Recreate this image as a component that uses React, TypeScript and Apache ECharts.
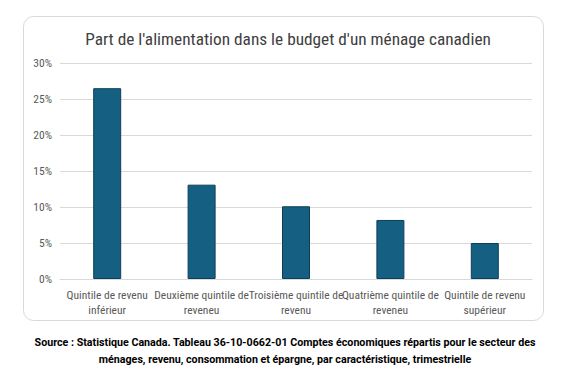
import React, { useEffect, useRef } from "react";
import * as echarts from "echarts";

const categories = [
  "Quintile de revenu\ninférieur",
  "Deuxième quintile de\nreveneu",
  "Troisième quintile de\nrevenu",
  "Quatrième quintile de\nreveneu",
  "Quintile de revenu\nsupérieur",
];
const shares = [0.265, 0.131, 0.101, 0.082, 0.05];
const yTicks = { min: 0, max: 0.3, interval: 0.05 };
const titleText = "Part de l'alimentation dans le budget d'un ménage canadien";
const sourceLines = [
  "Source : Statistique Canada. Tableau 36-10-0662-01 Comptes économiques répartis pour le secteur des",
  "ménages, revenu, consommation et épargne, par caractéristique, trimestrielle",
];

export default function App() {
  const ref = useRef<HTMLDivElement>(null);
  useEffect(() => {
    if (!ref.current) return;
    const chart = echarts.init(ref.current, undefined, { renderer: "svg" });
    const cond = "'Roboto Condensed', Roboto, sans-serif";
    const reg = "Roboto, 'Noto Sans', sans-serif";
    chart.setOption({
      animation: false,
      backgroundColor: "#ffffff",
      graphic: [
        {
          type: "rect",
          z: -10,
          shape: { x: 23.5, y: 16.5, width: 520, height: 304, r: 10 },
          style: { fill: "#ffffff", stroke: "#d9d9d9", lineWidth: 1 },
        },
        {
          type: "text",
          x: 285,
          y: 334,
          style: {
            text: sourceLines.join("\n"),
            fill: "#000000",
            font: `bold 10.7px ${reg}`,
            lineHeight: 17,
            align: "center",
            verticalAlign: "top",
          },
        },
      ],
      title: {
        text: titleText,
        left: 283,
        textAlign: "center",
        top: 25,
        textStyle: { color: "#404040", fontSize: 17.3, fontWeight: "normal", fontFamily: cond },
      },
      grid: { left: 60, right: 38, top: 63, bottom: 101, containLabel: false },
      xAxis: {
        type: "category",
        data: categories,
        axisLine: { show: true, lineStyle: { color: "#d9d9d9" } },
        axisTick: { show: false },
        axisLabel: {
          interval: 0,
          color: "#595959",
          fontSize: 11.5,
          fontFamily: cond,
          lineHeight: 15,
          margin: 8,
        },
      },
      yAxis: {
        type: "value",
        min: yTicks.min,
        max: yTicks.max,
        interval: yTicks.interval,
        axisLine: { show: false },
        axisTick: { show: false },
        splitLine: { lineStyle: { color: "#d9d9d9" } },
        axisLabel: {
          color: "#595959",
          fontSize: 11.5,
          fontFamily: cond,
          margin: 8,
          formatter: (v: number) => `${Math.round(v * 100)}%`,
        },
      },
      series: [
        {
          type: "bar",
          data: shares,
          barWidth: 28,
          itemStyle: { color: "#156082", borderColor: "#0e3f59", borderWidth: 1 },
        },
      ],
    });
    return () => chart.dispose();
  }, []);
  return (
    <div
      ref={ref}
      style={{ position: "fixed", left: 0, top: 0, width: 570, height: 380 }}
    />
  );
}
